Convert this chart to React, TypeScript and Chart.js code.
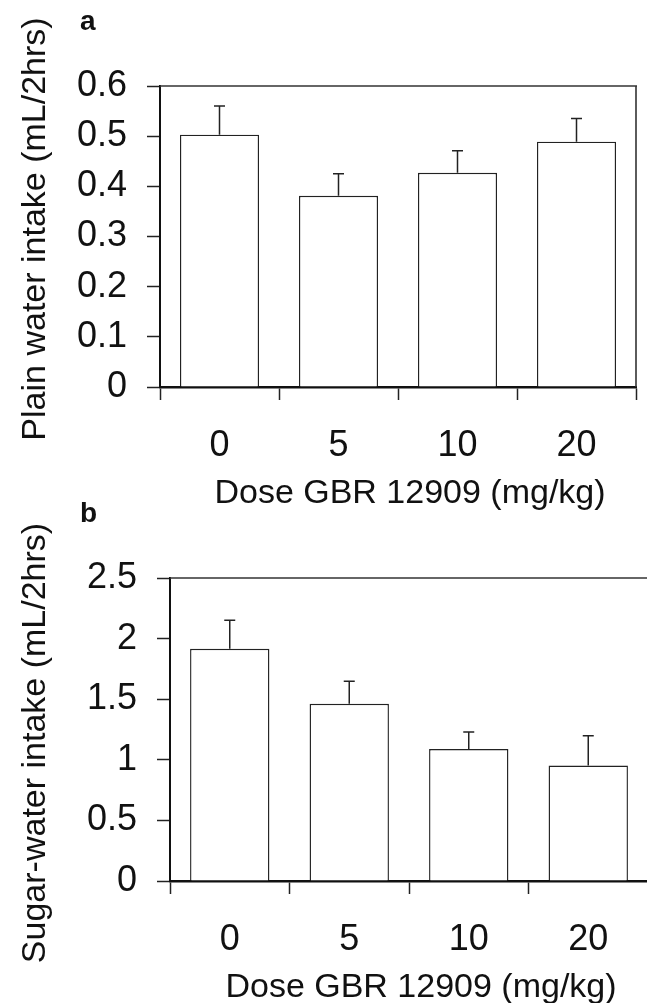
import React, { useEffect, useRef } from "react";
import { Chart, registerables } from "chart.js";

Chart.register(...registerables);

// ---- data ----
const DOSES = ["0", "5", "10", "20"];
const PLAIN_MEANS = [0.503, 0.381, 0.427, 0.489];
const PLAIN_SEM = [0.057, 0.044, 0.044, 0.046];
const SUGAR_MEANS = [1.916, 1.462, 1.089, 0.953];
const SUGAR_SEM = [0.236, 0.187, 0.14, 0.246];
const PLAIN_TICKS = [0, 0.1, 0.2, 0.3, 0.4, 0.5, 0.6];
const SUGAR_TICKS = [0, 0.5, 1, 1.5, 2, 2.5];
const X_TITLE = "Dose GBR 12909 (mg/kg)";
const PLAIN_Y_TITLE = "Plain water intake (mL/2hrs)";
const SUGAR_Y_TITLE = "Sugar-water intake (mL/2hrs)";

// ---- layout / style ----
const FONT = '"Liberation Sans", Arial, Helvetica, sans-serif';
const W = 660;
const H = 1003;
const Y_W = 120;
const X_H = 80;

type PanelCfg = {
  letter: string;
  yTitle: string;
  yTitleCenter: number;
  means: number[];
  sem: number[];
  ticks: number[];
  area: { top: number; bottom: number; left: number; right: number };
  rightBorder: boolean;
};

const PANEL_A: PanelCfg = {
  letter: "a",
  yTitle: PLAIN_Y_TITLE,
  yTitleCenter: 229,
  means: PLAIN_MEANS,
  sem: PLAIN_SEM,
  ticks: PLAIN_TICKS,
  area: { top: 86, bottom: 387, left: 160, right: 636 },
  rightBorder: true,
};

const PANEL_B: PanelCfg = {
  letter: "b",
  yTitle: SUGAR_Y_TITLE,
  yTitleCenter: 743,
  means: SUGAR_MEANS,
  sem: SUGAR_SEM,
  ticks: SUGAR_TICKS,
  area: { top: 578, bottom: 881, left: 170, right: 648 },
  rightBorder: false,
};

const decorPlugin = {
  id: "panelDecor",
  afterDatasetsDraw(chart: any) {
    const p: PanelCfg = chart.options.plugins.panelDecor.cfg;
    const ctx = chart.ctx;
    const yScale = chart.scales.y;
    const meta = chart.getDatasetMeta(0);
    ctx.save();
    ctx.strokeStyle = "#222";
    ctx.lineWidth = 1.5;
    meta.data.forEach((bar: any, i: number) => {
      const x = bar.x;
      const yTop = yScale.getPixelForValue(p.means[i] + p.sem[i]);
      ctx.beginPath();
      ctx.moveTo(x, bar.y);
      ctx.lineTo(x, yTop);
      ctx.moveTo(x - 5.5, yTop);
      ctx.lineTo(x + 5.5, yTop);
      ctx.stroke();
    });
    ctx.restore();
  },
  afterDraw(chart: any) {
    const p: PanelCfg = chart.options.plugins.panelDecor.cfg;
    const ctx = chart.ctx;
    const a = chart.chartArea;
    ctx.save();
    // top frame line
    ctx.strokeStyle = "#333";
    ctx.lineWidth = 1.3;
    ctx.beginPath();
    ctx.moveTo(a.left, a.top);
    ctx.lineTo(a.right + 1, a.top);
    ctx.stroke();
    if (p.rightBorder) {
      ctx.lineWidth = 1.6;
      ctx.beginPath();
      ctx.moveTo(a.right, a.top);
      ctx.lineTo(a.right, a.bottom);
      ctx.stroke();
    }
    ctx.fillStyle = "#111";
    // x title
    ctx.font = `34px ${FONT}`;
    ctx.textAlign = "center";
    ctx.textBaseline = "alphabetic";
    ctx.fillText(X_TITLE, (a.left + a.right) / 2 + 12, a.bottom + 115.5);
    // y title
    ctx.save();
    ctx.translate(45, p.yTitleCenter);
    ctx.rotate(-Math.PI / 2);
    ctx.fillText(p.yTitle, 0, 0);
    ctx.restore();
    // panel letter
    ctx.font = `bold 28px ${FONT}`;
    ctx.textAlign = "left";
    ctx.fillText(p.letter, 80, a.top - 56);
    ctx.restore();
  },
};

function makeConfig(p: PanelCfg): any {
  return {
    type: "bar",
    data: {
      labels: DOSES,
      datasets: [
        {
          data: p.means,
          backgroundColor: "#ffffff",
          borderColor: "#222",
          borderWidth: 1.4,
          borderSkipped: "start",
          barPercentage: 0.664,
          categoryPercentage: 1,
        },
      ],
    },
    options: {
      responsive: false,
      animation: false,
      devicePixelRatio: 1,
      layout: {
        padding: {
          top: p.area.top,
          left: p.area.left - Y_W,
          right: W - p.area.right,
          bottom: H - p.area.bottom - X_H,
        },
      },
      plugins: {
        legend: { display: false },
        tooltip: { enabled: false },
        title: { display: false },
        panelDecor: { cfg: p },
      },
      scales: {
        x: {
          type: "category",
          offset: true,
          grid: {
            offset: true,
            drawOnChartArea: false,
            drawTicks: true,
            tickLength: 13,
            tickWidth: 1.5,
            tickColor: "#222",
          },
          border: { display: true, color: "#111", width: 2.5 },
          ticks: {
            font: { family: FONT, size: 36 },
            color: "#111",
            padding: 24,
            maxRotation: 0,
            autoSkip: false,
          },
          afterFit: (s: any) => {
            s.height = X_H;
          },
        },
        y: {
          type: "linear",
          min: p.ticks[0],
          max: p.ticks[p.ticks.length - 1],
          afterBuildTicks: (s: any) => {
            s.ticks = p.ticks.map((v) => ({ value: v }));
          },
          grid: {
            drawOnChartArea: false,
            drawTicks: true,
            tickLength: 13,
            tickWidth: 1.5,
            tickColor: "#222",
          },
          border: { display: true, color: "#111", width: 2 },
          ticks: {
            font: { family: FONT, size: 36 },
            color: "#111",
            padding: 20,
            callback: (v: any) => String(v),
          },
          afterFit: (s: any) => {
            s.width = Y_W;
          },
        },
      },
    },
    plugins: [decorPlugin],
  };
}

function Panel({ cfg }: { cfg: PanelCfg }) {
  const ref = useRef<HTMLCanvasElement>(null);
  useEffect(() => {
    const chart = new Chart(ref.current as HTMLCanvasElement, makeConfig(cfg));
    return () => chart.destroy();
  }, [cfg]);
  return (
    <canvas
      ref={ref}
      width={W}
      height={H}
      style={{ position: "absolute", left: 0, top: 0, width: W, height: H }}
    />
  );
}

export default function App() {
  return (
    <div
      style={{
        position: "absolute",
        left: 0,
        top: 0,
        width: 647,
        height: 1003,
        overflow: "hidden",
        background: "#fff",
      }}
    >
      <Panel cfg={PANEL_A} />
      <Panel cfg={PANEL_B} />
    </div>
  );
}
